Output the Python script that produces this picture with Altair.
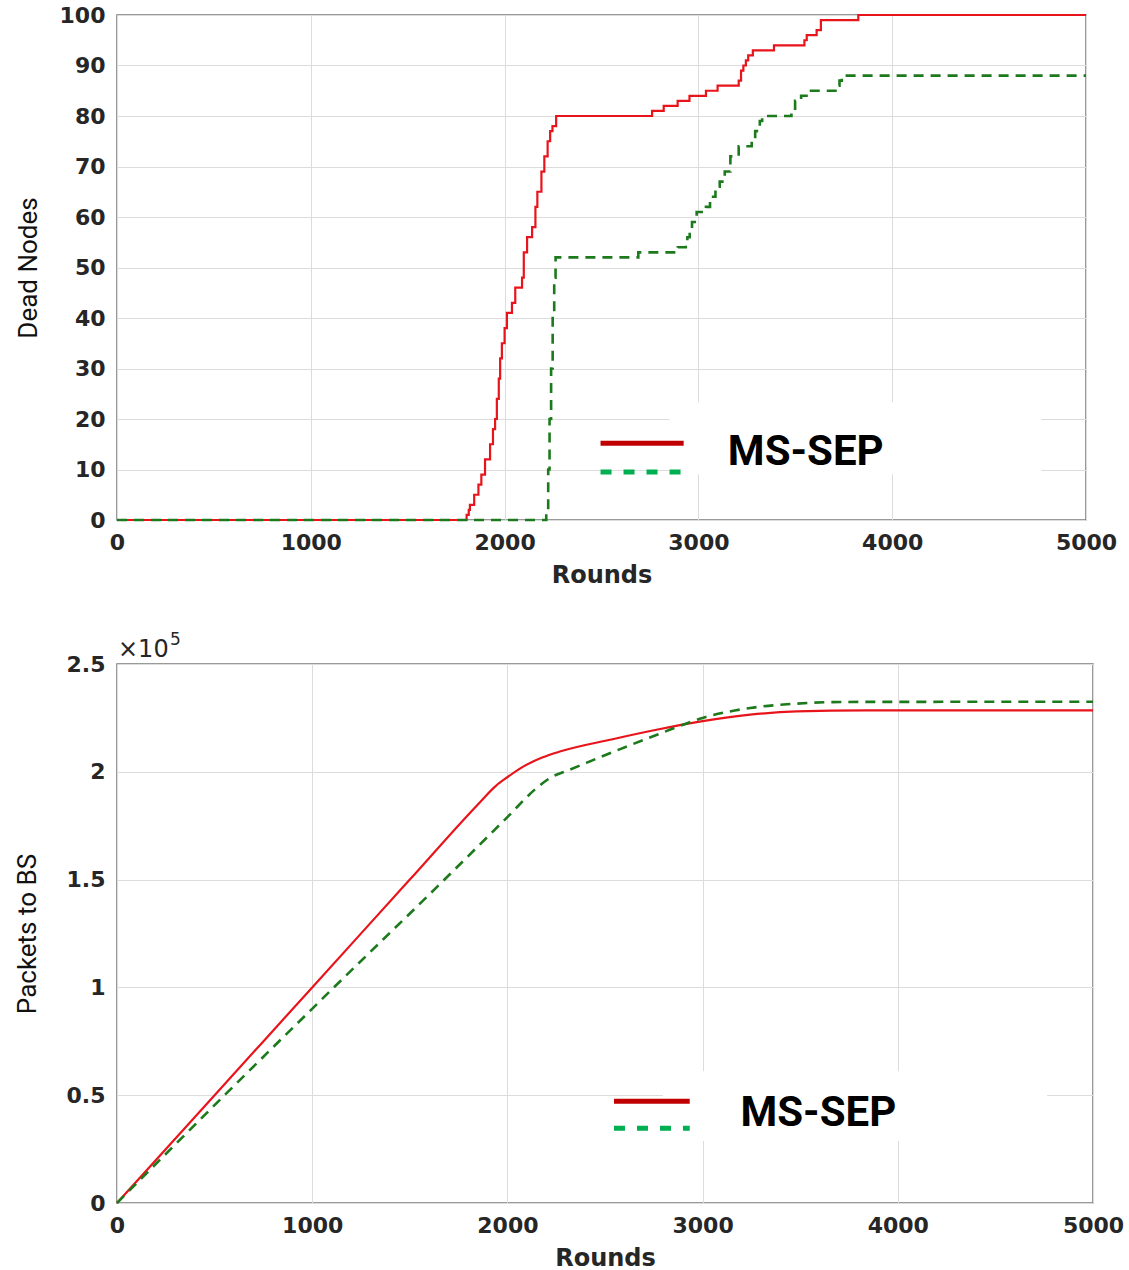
import altair as alt
import pandas as pd

# ---------------- data ----------------
x_ticks = [0, 1000, 2000, 3000, 4000, 5000]
dead_ticks = [0, 10, 20, 30, 40, 50, 60, 70, 80, 90, 100]
pkt_ticks = [0, 0.5, 1, 1.5, 2, 2.5]

# Dead nodes (step-after: round where the count changes, new count)
dead_red_rounds = [0, 1804, 1815, 1821, 1843, 1865, 1880, 1899, 1925, 1940, 1951, 1960,
                   1970, 1977, 1986, 2000, 2012, 2038, 2055, 2090, 2099, 2116, 2142,
                   2159, 2169, 2190, 2205, 2222, 2235, 2247, 2266, 2761, 2821, 2893,
                   2954, 3039, 3099, 3208, 3220, 3232, 3245, 3257, 3281, 3390, 3547,
                   3559, 3610, 3632, 3825, 5000]
dead_red_values = [0, 1, 2, 3, 5, 7, 9, 12, 15, 18, 20, 24,
                   28, 32, 35, 38, 41, 43, 46, 48, 53, 56, 58,
                   62, 65, 69, 72, 75, 77, 78, 80, 81, 82, 83,
                   84, 85, 86, 87, 89, 90, 91, 92, 93, 94, 95,
                   96, 97, 99, 100, 100]

dead_green_rounds = [0, 2215, 2225, 2232, 2240, 2248, 2256, 2263, 2690, 2894, 2935,
                     2943, 2955, 2967, 2991, 3039, 3060, 3088, 3110, 3136, 3165, 3208,
                     3275, 3293, 3310, 3317, 3329, 3480, 3499, 3530, 3571, 3715, 3728,
                     3740, 5000]
dead_green_values = [0, 2, 10, 20, 30, 40, 48, 52, 53, 54, 55,
                     56, 57, 59, 61, 62, 64, 66, 67, 69, 72, 74,
                     75, 77, 78, 79, 80, 81, 83, 84, 85, 86, 87,
                     88, 88]

# Packets to BS (units of 1e5)
pkt_red_rounds = [0, 500, 1000, 1500, 1850, 1941, 2000, 2083, 2178, 2273,
                  2533, 2770, 3000, 3244, 3481, 3836, 5000]
pkt_red_values = [0, 0.50, 1.00, 1.50, 1.85, 1.935, 1.975, 2.025, 2.066, 2.095,
                  2.15, 2.196, 2.235, 2.265, 2.28, 2.285, 2.285]

pkt_green_rounds = [0, 540, 1100, 1700, 2000, 2150, 2225, 2320, 2533,
                    2770, 3000, 3244, 3481, 3718, 5000]
pkt_green_values = [0, 0.49, 0.99, 1.52, 1.79, 1.925, 1.975, 2.01, 2.089,
                    2.173, 2.25, 2.296, 2.316, 2.324, 2.325]

legend_label = "MS-SEP"
exp_base = "×10"
exp_power = "5"

# ---------------- styles ----------------
RED = "#e8141b"
GREEN = "#1c7a1c"
LEG_RED = "#c00000"
LEG_GREEN = "#00b050"
TICK_FONT = "DejaVu Sans"
NARROW = "Roboto"

# legend placement (data coordinates of each panel)
top_leg = dict(bx=2850, bx2=4770, by=9.0, by2=23.3, lx=2495, lx2=2924,
               ly_red=15.2, ly_green=9.5, tx=3152, ty=13.5)
bot_leg = dict(bx=2796, bx2=4765, by=0.287, by2=0.611, lx=2546, lx2=2934,
               ly_red=0.472, ly_green=0.347, tx=3194, ty=0.417)


def xaxis():
    return alt.Axis(values=x_ticks, title="Rounds", labelFlush=False, labelOverlap=False,
                    format="d")


def panel(red_r, red_v, green_r, green_v, ydomain, yticks, ytitle, interp, leg,
          yfmt, title_pad):
    xs = alt.Scale(domain=[0, 5000], nice=False, zero=False)
    ys = alt.Scale(domain=ydomain, nice=False, zero=False)
    yax = alt.Axis(values=yticks, title=ytitle, labelFlush=False, labelOverlap=False,
                   format=yfmt, titlePadding=title_pad)
    red_df = pd.DataFrame({"x": red_r, "y": red_v})
    green_df = pd.DataFrame({"x": green_r, "y": green_v})

    red = alt.Chart(red_df).mark_line(color=RED, strokeWidth=2.2, interpolate=interp).encode(
        x=alt.X("x:Q", scale=xs, axis=xaxis()),
        y=alt.Y("y:Q", scale=ys, axis=yax),
    )
    green = alt.Chart(green_df).mark_line(color=GREEN, strokeWidth=2.6, strokeDash=[10, 7],
                                          interpolate=interp).encode(
        x=alt.X("x:Q", scale=xs, axis=xaxis()),
        y=alt.Y("y:Q", scale=ys, axis=yax),
    )
    box_df = pd.DataFrame({"x": [leg["bx"]], "x2": [leg["bx2"]], "y": [leg["by"]], "y2": [leg["by2"]]})
    box = alt.Chart(box_df).mark_rect(color="white").encode(
        x=alt.X("x:Q", scale=xs, axis=xaxis()), x2="x2:Q",
        y=alt.Y("y:Q", scale=ys, axis=yax), y2="y2:Q",
    )
    lr_df = pd.DataFrame({"x": [leg["lx"]], "x2": [leg["lx2"]], "y": [leg["ly_red"]]})
    lg_df = pd.DataFrame({"x": [leg["lx"]], "x2": [leg["lx2"]], "y": [leg["ly_green"]]})
    leg_red = alt.Chart(lr_df).mark_rule(color=LEG_RED, strokeWidth=5).encode(
        x=alt.X("x:Q", scale=xs, axis=xaxis()), x2="x2:Q",
        y=alt.Y("y:Q", scale=ys, axis=yax),
    )
    leg_green = alt.Chart(lg_df).mark_rule(color=LEG_GREEN, strokeWidth=5,
                                           strokeDash=[11, 12]).encode(
        x=alt.X("x:Q", scale=xs, axis=xaxis()), x2="x2:Q",
        y=alt.Y("y:Q", scale=ys, axis=yax),
    )
    t_df = pd.DataFrame({"x": [leg["tx"]], "y": [leg["ty"]], "t": [legend_label]})
    leg_text = alt.Chart(t_df).mark_text(align="left", baseline="middle", font=NARROW,
                                         fontWeight="bold", fontSize=42, color="black").encode(
        x=alt.X("x:Q", scale=xs, axis=xaxis()),
        y=alt.Y("y:Q", scale=ys, axis=yax),
        text="t:N",
    )
    return [box, red, green, leg_red, leg_green, leg_text], xs, ys, yax


top_layers, _, _, _ = panel(dead_red_rounds, dead_red_values, dead_green_rounds,
                            dead_green_values, [0, 100], dead_ticks, "Dead Nodes",
                            "step-after", top_leg, "d", 18)
top = alt.layer(*top_layers).properties(width=969, height=505)

bot_layers, xs, ys, yax = panel(pkt_red_rounds, pkt_red_values, pkt_green_rounds,
                                pkt_green_values, [0, 2.5], pkt_ticks, "Packets to BS",
                                "monotone", bot_leg, "", 26)
exp_df = pd.DataFrame({"x": [0], "y": [2.5], "b": [exp_base], "p": [exp_power]})
exp1 = alt.Chart(exp_df).mark_text(align="left", baseline="bottom", dx=1, dy=-2,
                                   font=TICK_FONT, fontSize=24, color="#262626").encode(
    x=alt.X("x:Q", scale=xs, axis=xaxis()), y=alt.Y("y:Q", scale=ys, axis=yax), text="b:N")
exp2 = alt.Chart(exp_df).mark_text(align="left", baseline="bottom", dx=53, dy=-15,
                                   font=TICK_FONT, fontSize=17, color="#262626").encode(
    x=alt.X("x:Q", scale=xs, axis=xaxis()), y=alt.Y("y:Q", scale=ys, axis=yax), text="p:N")
bottom = alt.layer(*bot_layers, exp1, exp2).properties(width=976, height=539)

chart = alt.concat(top, bottom, columns=1, spacing=42).properties(
    padding={"left": 13, "top": 3, "right": 0, "bottom": 0}
).configure_view(
    stroke="#7a7a7a", strokeWidth=1.5
).configure_axis(
    domain=False, ticks=False, labelPadding=12,
    labelFont=TICK_FONT, labelFontWeight="bold", labelFontSize=22, labelColor="#262626",
    gridColor="#dcdcdc", gridWidth=1,
).configure_axisX(
    titleFont=TICK_FONT, titleFontWeight="bold", titleFontSize=24, titleColor="#262626",
    titlePadding=10,
).configure_axisY(
    titleFont=NARROW, titleFontWeight="normal", titleFontSize=26, titleColor="#111111",
)

chart.save("out.html", embed_options={"renderer": "svg", "actions": False})
